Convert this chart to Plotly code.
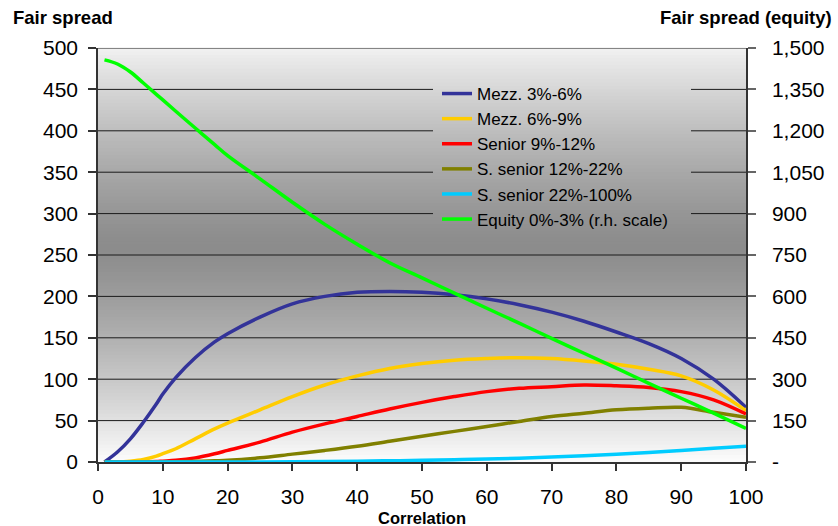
import plotly.graph_objects as go

# Correlation grid (x axis) and fair spreads per tranche
corr = [1, 3, 5, 7, 9, 10, 12, 15, 18, 20, 25, 30, 35, 40, 45, 50, 55, 60,
        65, 70, 75, 80, 85, 90, 95, 100]

mezz_3_6 = [0, 12, 28, 48, 70, 82, 102, 126, 145, 155, 175, 191, 200, 205, 206,
            205, 202, 197, 190, 181, 170, 157, 143, 125, 100, 66]
mezz_6_9 = [0, 0, 1, 3, 7, 10, 16, 28, 40, 47, 63, 79, 93, 104, 113, 119, 123,
            125, 126, 125, 122, 118, 112, 104, 87, 62]
senior_9_12 = [0, 0, 0, 0, 0.5, 1, 2, 5, 10, 14, 24, 36, 46, 55, 64, 72, 79, 85,
               89, 91, 93, 92, 90, 85, 75, 58]
ssenior_12_22 = [0, 0, 0, 0, 0, 0, 0.3, 0.8, 1.5, 2, 5, 9.5, 14, 19, 25, 31, 37,
                 43, 49, 55, 59, 63, 65, 66, 60, 54]
ssenior_22_100 = [0, 0, 0, 0, 0, 0, 0, 0, 0, 0, 0.1, 0.3, 0.6, 1, 1.5, 2, 2.7, 3.5,
                  4.6, 6, 7.6, 9.5, 11.6, 14, 16.5, 19]
equity_0_3 = [1457, 1442, 1413, 1373, 1332, 1312, 1271, 1210, 1150, 1110, 1026,
              941, 861, 789, 722, 667, 612, 557, 503, 448, 394, 340, 285, 231,
              177, 122]

left_ticks = list(range(0, 501, 50))
right_ticks = list(range(0, 1501, 150))
right_ticktext = ["-" if v == 0 else f"{v:,}" for v in right_ticks]
x_ticks = list(range(0, 101, 10))

series = [
    ("Mezz. 3%-6%", mezz_3_6, "#333399"),
    ("Mezz. 6%-9%", mezz_6_9, "#FFCC00"),
    ("Senior 9%-12%", senior_9_12, "#FF0000"),
    ("S. senior 12%-22%", ssenior_12_22, "#808000"),
    ("S. senior 22%-100%", ssenior_22_100, "#00CCFF"),
]

fig = go.Figure()
for name, vals, color in series:
    fig.add_trace(go.Scatter(
        x=corr, y=vals, name=name, mode="lines",
        line=dict(color=color, width=3.5, shape="spline", smoothing=1.0),
        yaxis="y",
    ))
fig.add_trace(go.Scatter(
    x=corr, y=equity_0_3, name="Equity 0%-3% (r.h. scale)", mode="lines",
    line=dict(color="#00FF00", width=3.5, shape="spline", smoothing=1.0),
    yaxis="y2",
))

# Plot-area geometry in pixels (used to place the legend box)
PX_L, PX_R, PX_T, PX_B = 98, 746, 48, 462
PW, PH = PX_R - PX_L, PX_B - PX_T

# Vertical grey gradient for the plot background: light at the edges,
# darkest near the middle
def grey_at(t):
    d = min(abs(t - 0.52) / 0.52, 1.0)
    g = int(round(140 + (252 - 140) * (d ** 1.3)))
    return f"rgb({g},{g},{g})"

n_bands = 120
shapes = []
for i in range(n_bands):
    t0, t1 = i / n_bands, (i + 1) / n_bands
    shapes.append(dict(type="rect", xref="x domain", yref="y domain",
                       x0=0, x1=1, y0=t0, y1=t1 + 0.002,
                       fillcolor=grey_at((t0 + t1) / 2), line=dict(width=0),
                       layer="below"))

# Legend box (the horizontal gridlines are interrupted behind it)
leg_x0, leg_x1 = (433 - PX_L) / PW, (691 - PX_L) / PW
leg_y0, leg_y1 = (PX_B - 232) / PH, (PX_B - 78) / PH

for v in left_ticks[1:]:
    t = v / 500
    segs = [(0, 1)]
    if leg_y0 < t < leg_y1:
        segs = [(0, leg_x0), (leg_x1, 1)]
    for a, b in segs:
        shapes.append(dict(type="line", xref="x domain", yref="y",
                           x0=a, x1=b, y0=v, y1=v,
                           line=dict(color="#1a1a1a", width=1), layer="below"))

font_family = "Liberation Sans, Arial, sans-serif"

fig.update_layout(
    width=838, height=526,
    margin=dict(l=PX_L, r=838 - PX_R, t=PX_T, b=526 - PX_B),
    paper_bgcolor="white",
    plot_bgcolor="white",
    font=dict(family=font_family, color="black"),
    shapes=shapes,
    showlegend=True,
    legend=dict(
        x=leg_x0 + 4 / PW, y=leg_y1 + 2 / PH, xanchor="left", yanchor="top",
        bgcolor="rgba(0,0,0,0)", borderwidth=0,
        font=dict(size=17, family=font_family, color="black"),
        tracegroupgap=0, itemwidth=30,
    ),
    xaxis=dict(
        range=[0, 100], tickvals=x_ticks, showgrid=False, zeroline=False,
        ticks="outside", ticklen=7, tickcolor="#333", tickwidth=1.5,
        showline=True, linecolor="#333", linewidth=1.5,
        tickfont=dict(size=21), ticklabelstandoff=8,
    ),
    yaxis=dict(
        range=[0, 500], tickvals=left_ticks, showgrid=False, zeroline=False,
        ticks="outside", ticklen=8, tickcolor="#333", tickwidth=1.5,
        showline=True, linecolor="#333", linewidth=1.5,
        tickfont=dict(size=21), ticklabelstandoff=6,
    ),
    yaxis2=dict(
        range=[0, 1500], tickvals=right_ticks, ticktext=right_ticktext,
        overlaying="y", side="right", showgrid=False, zeroline=False,
        ticks="outside", ticklen=8, tickcolor="#666", tickwidth=1.5,
        showline=True, linecolor="#333", linewidth=1.5,
        tickfont=dict(size=21), ticklabelstandoff=12,
    ),
    annotations=[
        dict(text="<b>Fair spread</b>", xref="paper", yref="paper",
             x=-(PX_L - 11) / PW, y=(PX_B - 18) / PH, xanchor="left",
             yanchor="middle", showarrow=False, font=dict(size=18.5)),
        dict(text="<b>Fair spread (equity)</b>", xref="paper", yref="paper",
             x=(834 - PX_L) / PW, y=(PX_B - 18) / PH, xanchor="right",
             yanchor="middle", showarrow=False, font=dict(size=18.5)),
        dict(text="<b>Correlation</b>", xref="paper", yref="paper",
             x=0.5, y=(PX_B - 518) / PH, xanchor="center", yanchor="middle",
             showarrow=False, font=dict(size=16.5)),
    ],
)

fig.write_html("out.html")
